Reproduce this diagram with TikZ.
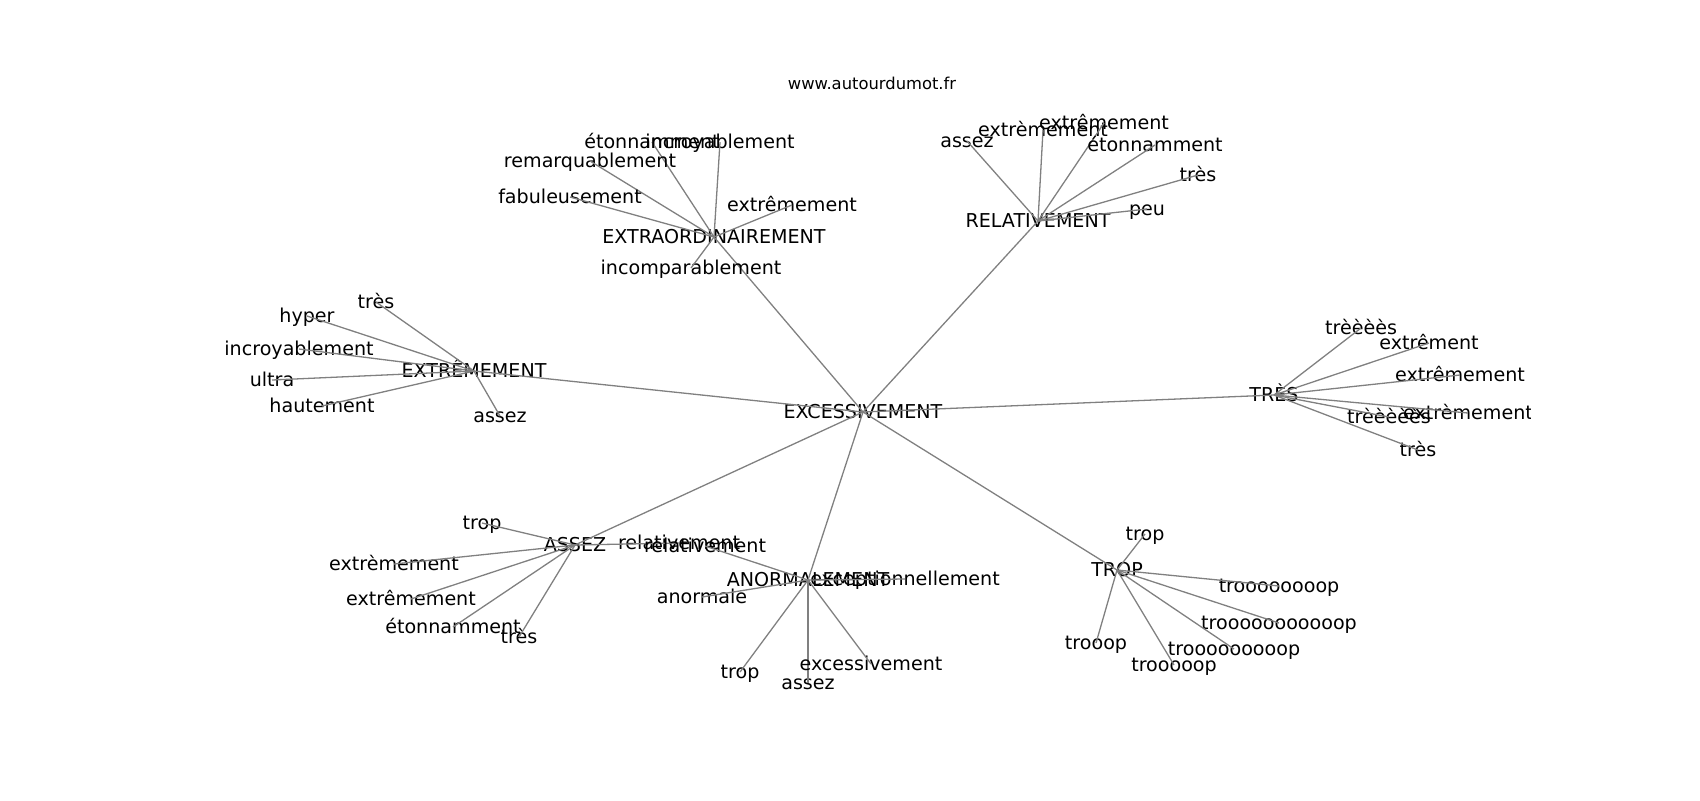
\documentclass[tikz,border=0pt]{standalone}
\usepackage{fontspec}
\setmainfont{DejaVu Sans}
\begin{document}
\begin{tikzpicture}[x=0.5pt,y=-0.5pt,font=\fontsize{9.55}{11}\selectfont]
\tikzstyle{word}=[inner sep=0,text height=0.84em,text depth=0.16em]
\tikzstyle{edge}=[draw=gray,line width=0.65pt]
\useasboundingbox (0,0) rectangle (1700,800);
\node(title) at (872,83)[font=\fontsize{8.18}{10}\selectfont,word]{www.autourdumot.fr};
\begin{scope}
\clip (212,96) rectangle (1530,712);
\node(exc)[word] at (863,412){EXCESSIVEMENT};
\node(extra)[word] at (714,237){EXTRAORDINAIREMENT};
\node(rel)[word] at (1038,221){RELATIVEMENT};
\node(extr)[word] at (474,371){EXTRÊMEMENT};
\node(tres)[word] at (1274,395){TRÈS};
\node(assez)[word] at (575,545){ASSEZ};
\node(anorm)[word] at (808,580){ANORMALEMENT};
\node(trop)[word] at (1117,570){TROP};
\foreach \h in {extra,rel,extr,tres,assez,anorm,trop}
  \draw[edge](exc.center)--(\h.center);
\foreach \x/\y/\t [count=\i] in {652/142/étonnamment,720/142/incroyablement,590/161/remarquablement,570/197/fabuleusement,792/205/extrêmement,691/268/incomparablement}{
  \node(extra\i)[word] at (\x,\y){\t};
  \draw[edge](extra.center)--(extra\i.center);}
\foreach \x/\y/\t [count=\i] in {967/141/assez,1043/130/extrèmement,1104/123/extrêmement,1155/145/étonnamment,1198/175/très,1147/209/peu}{
  \node(rel\i)[word] at (\x,\y){\t};
  \draw[edge](rel.center)--(rel\i.center);}
\foreach \x/\y/\t [count=\i] in {376/302/très,307/316/hyper,299/349/incroyablement,272/380/ultra,322/406/hautement,500/416/assez}{
  \node(extr\i)[word] at (\x,\y){\t};
  \draw[edge](extr.center)--(extr\i.center);}
\foreach \x/\y/\t [count=\i] in {1361/328/trèèèès,1429/343/extrêment,1460/375/extrêmement,1389/417/trèèèèès,1468/413/extrèmement,1418/450/très}{
  \node(tres\i)[word] at (\x,\y){\t};
  \draw[edge](tres.center)--(tres\i.center);}
\foreach \x/\y/\t [count=\i] in {482/523/trop,679/543/relativement,394/564/extrèmement,411/599/extrêmement,453/627/étonnamment,519/637/très}{
  \node(assez\i)[word] at (\x,\y){\t};
  \draw[edge](assez.center)--(assez\i.center);}
\foreach \x/\y/\t [count=\i] in {705/546/relativement,905/579/exceptionnellement,702/597/anormale,740/672/trop,808/683/assez,871/664/excessivement}{
  \node(anorm\i)[word] at (\x,\y){\t};
  \draw[edge](anorm.center)--(anorm\i.center);}
\foreach \x/\y/\t [count=\i] in {1145/534/trop,1279/586/troooooooop,1279/623/trooooooooooop,1234/649/trooooooooop,1174/665/trooooop,1096/643/trooop}{
  \node(trop\i)[word] at (\x,\y){\t};
  \draw[edge](trop.center)--(trop\i.center);}
\end{scope}
\end{tikzpicture}
\end{document}
